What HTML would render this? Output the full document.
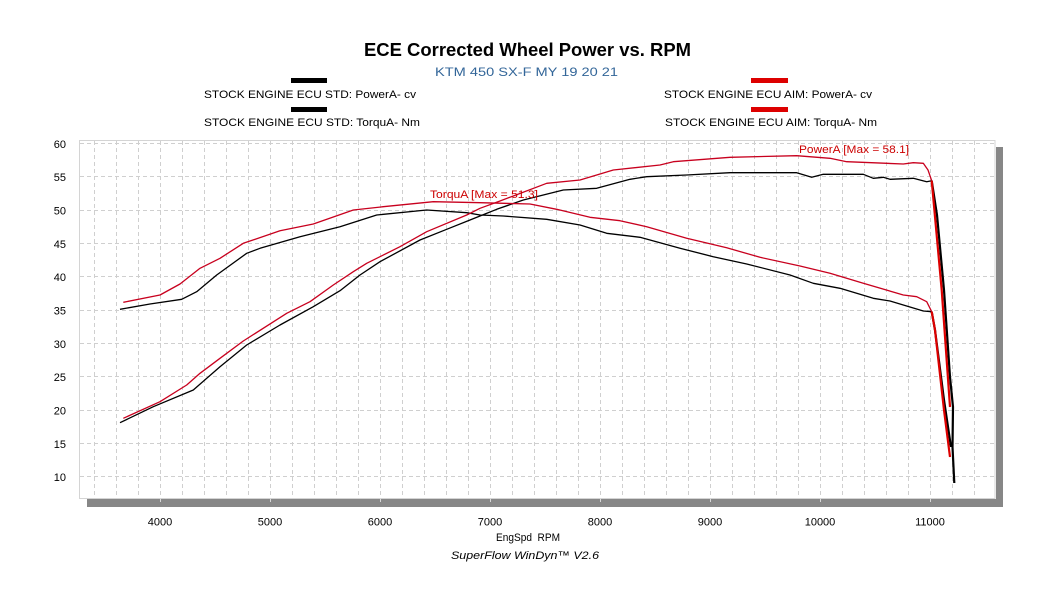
<!DOCTYPE html>
<html>
<head>
<meta charset="utf-8">
<style>
html,body{margin:0;padding:0;background:#fff;}
svg{display:block;}
text{font-family:"Liberation Sans",Arial,sans-serif;}
</style>
</head>
<body>
<svg width="1052" height="600" viewBox="0 0 1052 600" xmlns="http://www.w3.org/2000/svg">
<rect width="1052" height="600" fill="#fff"/>

<!-- Title -->
<text x="364" y="56" font-size="18" font-weight="bold" fill="#000" textLength="327" lengthAdjust="spacingAndGlyphs">ECE Corrected Wheel Power vs. RPM</text>
<text x="435" y="76" font-size="12" fill="#336699" textLength="183" lengthAdjust="spacingAndGlyphs">KTM 450 SX-F MY 19 20 21</text>

<!-- Legend -->
<rect x="291" y="78" width="36" height="5" fill="#000"/>
<text x="204" y="98" font-size="11" fill="#000" textLength="212" lengthAdjust="spacingAndGlyphs">STOCK ENGINE ECU STD: PowerA- cv</text>
<rect x="291" y="107" width="36" height="5" fill="#000"/>
<text x="204" y="126" font-size="11" fill="#000" textLength="216" lengthAdjust="spacingAndGlyphs">STOCK ENGINE ECU STD: TorquA- Nm</text>
<rect x="751" y="78" width="37" height="5" fill="#dd0000"/>
<text x="664" y="98" font-size="11" fill="#000" textLength="208" lengthAdjust="spacingAndGlyphs">STOCK ENGINE ECU AIM: PowerA- cv</text>
<rect x="751" y="107" width="37" height="5" fill="#dd0000"/>
<text x="665" y="126" font-size="11" fill="#000" textLength="212" lengthAdjust="spacingAndGlyphs">STOCK ENGINE ECU AIM: TorquA- Nm</text>

<!-- Shadow -->
<rect x="87" y="499" width="916" height="8" fill="#878787"/>
<rect x="996" y="147" width="7" height="360" fill="#878787"/>
<g stroke="#d8d8d8" stroke-width="1">
<line x1="160.5" y1="499" x2="160.5" y2="502"/>
<line x1="270.5" y1="499" x2="270.5" y2="502"/>
<line x1="380.5" y1="499" x2="380.5" y2="502"/>
<line x1="490.5" y1="499" x2="490.5" y2="502"/>
<line x1="600.5" y1="499" x2="600.5" y2="502"/>
<line x1="710.5" y1="499" x2="710.5" y2="502"/>
<line x1="820.5" y1="499" x2="820.5" y2="502"/>
<line x1="930.5" y1="499" x2="930.5" y2="502"/>
</g>

<!-- Plot area -->
<rect x="79.5" y="140.5" width="915.5" height="358" fill="#fff" stroke="#d4d4d4" stroke-width="1"/>

<!-- Grid -->
<g stroke="#cfcfcf" stroke-width="1" stroke-dasharray="4,3">
<line x1="80" y1="143.5" x2="995" y2="143.5"/>
<line x1="80" y1="176.5" x2="995" y2="176.5"/>
<line x1="80" y1="210.5" x2="995" y2="210.5"/>
<line x1="80" y1="243.5" x2="995" y2="243.5"/>
<line x1="80" y1="276.5" x2="995" y2="276.5"/>
<line x1="80" y1="310.5" x2="995" y2="310.5"/>
<line x1="80" y1="343.5" x2="995" y2="343.5"/>
<line x1="80" y1="376.5" x2="995" y2="376.5"/>
<line x1="80" y1="410.5" x2="995" y2="410.5"/>
<line x1="80" y1="443.5" x2="995" y2="443.5"/>
<line x1="80" y1="476.5" x2="995" y2="476.5"/>
</g>
<g stroke="#cfcfcf" stroke-width="1" stroke-dasharray="4,3">
<line x1="94.5" y1="141" x2="94.5" y2="498"/>
<line x1="116.5" y1="141" x2="116.5" y2="498"/>
<line x1="138.5" y1="141" x2="138.5" y2="498"/>
<line x1="160.5" y1="141" x2="160.5" y2="498"/>
<line x1="182.5" y1="141" x2="182.5" y2="498"/>
<line x1="204.5" y1="141" x2="204.5" y2="498"/>
<line x1="226.5" y1="141" x2="226.5" y2="498"/>
<line x1="248.5" y1="141" x2="248.5" y2="498"/>
<line x1="270.5" y1="141" x2="270.5" y2="498"/>
<line x1="292.5" y1="141" x2="292.5" y2="498"/>
<line x1="314.5" y1="141" x2="314.5" y2="498"/>
<line x1="336.5" y1="141" x2="336.5" y2="498"/>
<line x1="358.5" y1="141" x2="358.5" y2="498"/>
<line x1="380.5" y1="141" x2="380.5" y2="498"/>
<line x1="402.5" y1="141" x2="402.5" y2="498"/>
<line x1="424.5" y1="141" x2="424.5" y2="498"/>
<line x1="446.5" y1="141" x2="446.5" y2="498"/>
<line x1="468.5" y1="141" x2="468.5" y2="498"/>
<line x1="490.5" y1="141" x2="490.5" y2="498"/>
<line x1="512.5" y1="141" x2="512.5" y2="498"/>
<line x1="534.5" y1="141" x2="534.5" y2="498"/>
<line x1="556.5" y1="141" x2="556.5" y2="498"/>
<line x1="578.5" y1="141" x2="578.5" y2="498"/>
<line x1="600.5" y1="141" x2="600.5" y2="498"/>
<line x1="622.5" y1="141" x2="622.5" y2="498"/>
<line x1="644.5" y1="141" x2="644.5" y2="498"/>
<line x1="666.5" y1="141" x2="666.5" y2="498"/>
<line x1="688.5" y1="141" x2="688.5" y2="498"/>
<line x1="710.5" y1="141" x2="710.5" y2="498"/>
<line x1="732.5" y1="141" x2="732.5" y2="498"/>
<line x1="754.5" y1="141" x2="754.5" y2="498"/>
<line x1="776.5" y1="141" x2="776.5" y2="498"/>
<line x1="798.5" y1="141" x2="798.5" y2="498"/>
<line x1="820.5" y1="141" x2="820.5" y2="498"/>
<line x1="842.5" y1="141" x2="842.5" y2="498"/>
<line x1="864.5" y1="141" x2="864.5" y2="498"/>
<line x1="886.5" y1="141" x2="886.5" y2="498"/>
<line x1="908.5" y1="141" x2="908.5" y2="498"/>
<line x1="930.5" y1="141" x2="930.5" y2="498"/>
<line x1="952.5" y1="141" x2="952.5" y2="498"/>
<line x1="974.5" y1="141" x2="974.5" y2="498"/>
</g>

<!-- Y labels -->
<g font-size="11" fill="#000" text-anchor="end">
<text x="66" y="148">60</text>
<text x="66" y="181">55</text>
<text x="66" y="214.5">50</text>
<text x="66" y="248">45</text>
<text x="66" y="281">40</text>
<text x="66" y="314.5">35</text>
<text x="66" y="348">30</text>
<text x="66" y="381">25</text>
<text x="66" y="414.5">20</text>
<text x="66" y="448">15</text>
<text x="66" y="481">10</text>
</g>

<!-- X labels -->
<g font-size="11" fill="#000" text-anchor="middle">
<text x="160" y="525.5">4000</text>
<text x="270" y="525.5">5000</text>
<text x="380" y="525.5">6000</text>
<text x="490" y="525.5">7000</text>
<text x="600" y="525.5">8000</text>
<text x="710" y="525.5">9000</text>
<text x="820" y="525.5">10000</text>
<text x="930" y="525.5">11000</text>
</g>
<text x="496" y="541" font-size="11" fill="#000" textLength="64" lengthAdjust="spacingAndGlyphs" xml:space="preserve">EngSpd  RPM</text>
<text x="451" y="559" font-size="11" font-style="italic" fill="#000" textLength="148" lengthAdjust="spacingAndGlyphs">SuperFlow WinDyn™ V2.6</text>

<!-- Black curves -->
<g fill="none" stroke="#000" stroke-width="1.3" stroke-linejoin="round">
<polyline points="120,309.3 150,304 181.7,299.3 196.7,291.7 216.7,275 246.7,253.3 260,248.3 300,236.7 340,226.7 376.7,215 426.7,210 466.7,212.7 480,215 503.3,216 546.7,219.3 580,225 606.7,233.3 640,237.3 680,248.3 713.3,256.7 746.7,264 790,275 813.3,283.3 840,288.3 873.3,298.3 890,301 923.3,311 931.7,311.7"/>
<polyline points="120,422.7 153.3,406.7 193.3,390 220,366.7 246.7,345 280,325 313.3,306.7 340,290.7 360,275 380,261.7 420,240 446.7,229.3 470,220 485,214 496.7,209.3 523.3,200 563.3,190 596.7,188.3 630,179.3 646.7,176.7 686.7,175 730,172.7 796.7,172.7 811.7,177.3 823.3,174.3 863.3,174.3 873.3,178.3 883.3,177.3 890,179.3 913.3,178.3 926.7,181.7 931.7,180.7"/>
</g>
<g fill="none" stroke="#000" stroke-width="2.2" stroke-linejoin="round">
<polyline points="931.7,311.7 935,330 944,400 951,447"/>
<polyline points="931.7,180.7 937,215 944,290 950,377 953,407 952.5,447 954.3,483"/>
</g>

<!-- Red curves -->
<g fill="none" stroke="#c8001e" stroke-width="1.3" stroke-linejoin="round">
<polyline points="123.3,302.3 160,295 180,284 200,268.3 220,258.3 243.3,243.3 280,230.7 313.3,224 353.3,210 383.3,206.7 433.3,201.7 480,202.7 530,204 556.7,209.3 590,217.3 620,220.7 646.7,226.7 686.7,238.3 726.7,247.7 760,257.3 800,266 830,273.3 863.3,283.3 903.3,295 916.7,296.7 926.7,301.7 931.7,311.7"/>
<polyline points="123.3,418.3 160,401.7 186.7,385 200,373.3 220,358.3 243.3,341 286.7,313.3 310,301.7 333.3,285 353.3,271.7 366.7,263.3 400,246.7 426.7,231.7 466.7,215 480,208.3 500,201 513.3,196 546.7,183.3 580,180 596.7,175 613.3,170 660,165 673.3,161.7 730,157.3 796.7,155.7 830,158.3 846.7,161.7 903.3,164 913.3,162.7 923.3,163.3 928,170 931.7,180.7"/>
</g>
<g fill="none" stroke="#dd0000" stroke-width="2.2" stroke-linejoin="round">
<polyline points="931.7,311.7 935,330 944,410 950,457"/>
<polyline points="931.7,180.7 941.7,290 950,407"/>
</g>

<!-- Curve labels -->
<text x="799" y="153" font-size="11" fill="#cc0000" textLength="110" lengthAdjust="spacingAndGlyphs">PowerA [Max = 58.1]</text>
<text x="430" y="198" font-size="11" fill="#cc0000" textLength="108" lengthAdjust="spacingAndGlyphs">TorquA [Max = 51.3]</text>
</svg>
</body>
</html>
